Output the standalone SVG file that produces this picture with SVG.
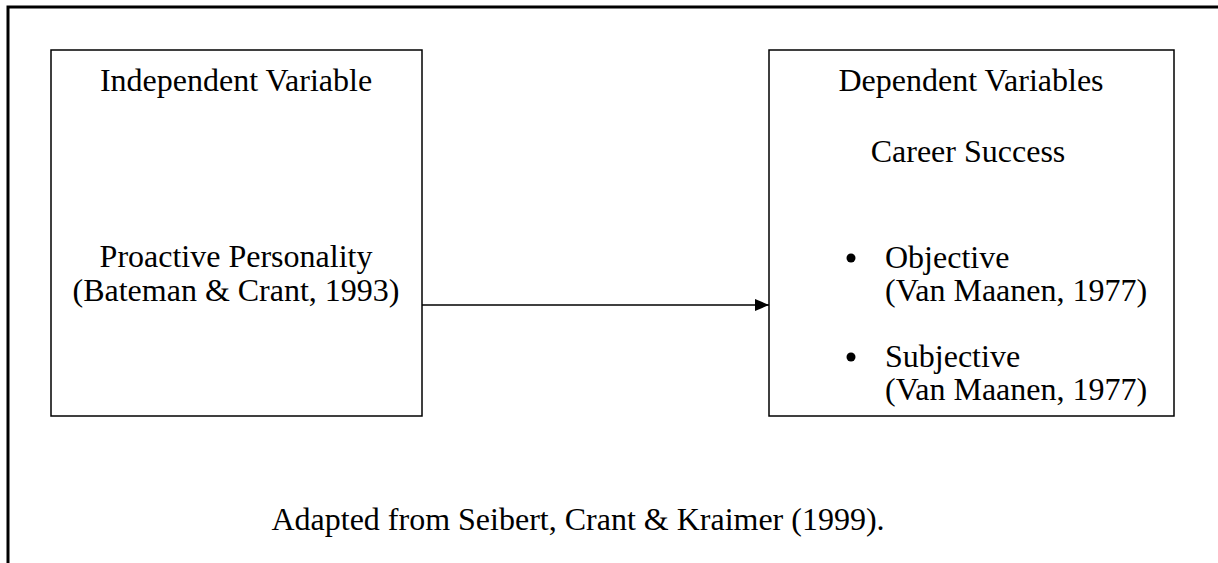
<svg xmlns="http://www.w3.org/2000/svg" width="1218" height="563" viewBox="0 0 1218 563">
<style>
text{font-family:"Liberation Serif","Times New Roman",serif;font-size:32px;fill:#000}
.box{fill:#fff;stroke:#000;stroke-width:1.5}
.c{text-anchor:middle}
</style>
<defs>
<marker id="ah" markerWidth="14" markerHeight="12" refX="14" refY="6" orient="auto" markerUnits="userSpaceOnUse">
<path d="M0,0 L14,6 L0,12 Z" fill="#000"/>
</marker>
</defs>
<rect width="1218" height="563" fill="#fff"/>
<g id="frame">
<path d="M8,563 L8,7 L1218,7" fill="none" stroke="#000" stroke-width="3"/>
</g>
<g id="connectors">
<line x1="422" y1="305" x2="769" y2="305" stroke="#000" stroke-width="1.5" marker-end="url(#ah)"/>
</g>
<g id="independent">
<rect class="box" x="51" y="50" width="371" height="366"/>
<text class="c" x="236" y="91">Independent Variable</text>
<text class="c" x="236" y="267">Proactive Personality</text>
<text class="c" x="236" y="301">(Bateman &amp; Crant, 1993)</text>
</g>
<g id="dependent">
<rect class="box" x="769" y="50" width="405" height="366"/>
<text class="c" x="971" y="91">Dependent Variables</text>
<text class="c" x="968" y="162">Career Success</text>
<circle cx="851" cy="258" r="4.5"/>
<text x="885" y="268">Objective</text>
<text x="885" y="301">(Van Maanen, 1977)</text>
<circle cx="851" cy="357" r="4.5"/>
<text x="885" y="367">Subjective</text>
<text x="885" y="400">(Van Maanen, 1977)</text>
</g>
<g id="caption">
<text class="c" x="578" y="530">Adapted from Seibert, Crant &amp; Kraimer (1999).</text>
</g>
</svg>
